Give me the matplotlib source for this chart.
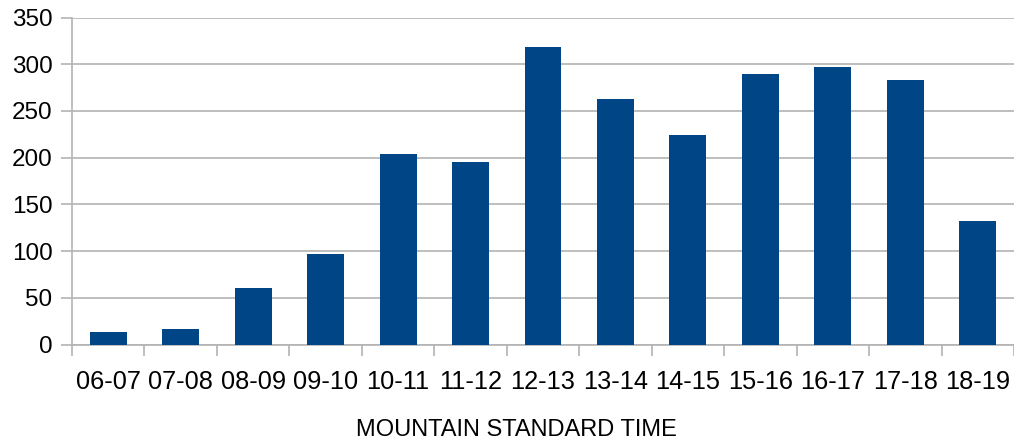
import matplotlib
matplotlib.use("Agg")
import matplotlib.pyplot as plt
import numpy as np

categories = ["06-07", "07-08", "08-09", "09-10", "10-11", "11-12", "12-13",
              "13-14", "14-15", "15-16", "16-17", "17-18", "18-19"]
values = [13, 17, 61, 97, 204, 195, 319, 263, 224, 290, 297, 283, 132]
y_ticks = [0, 50, 100, 150, 200, 250, 300, 350]
x_title = "MOUNTAIN STANDARD TIME"

plt.rcParams['font.family'] = ['Liberation Sans', 'DejaVu Sans']

fig = plt.figure(figsize=(10.14, 4.43), dpi=100)
ax = fig.add_axes([0.071, 0.2223, 0.929, 0.738])

x = np.arange(len(categories))
ax.bar(x, values, width=0.51, color="#004586", zorder=3)

ax.set_xlim(-0.5, len(categories) - 0.5)
ax.set_ylim(0, 350)
ax.set_yticks(y_ticks)
ax.set_yticklabels([str(v) for v in y_ticks], fontsize=17.5)
ax.yaxis.grid(True, color="#b3b3b3", linewidth=1.2, zorder=0)
ax.tick_params(axis='y', length=8, color="#b3b3b3", width=1.2, pad=6)

ax.set_xticks(x)
ax.set_xticklabels(categories, fontsize=18.3)
ax.tick_params(axis='x', which='major', length=0, pad=18)
ax.set_xticks(np.arange(-0.5, len(categories), 1), minor=True)
ax.tick_params(axis='x', which='minor', length=8, color="#b3b3b3", width=1.2)

for s in ["top", "right"]:
    ax.spines[s].set_visible(False)
for s in ["left", "bottom"]:
    ax.spines[s].set_color("#b3b3b3")
    ax.spines[s].set_linewidth(1.2)

fig.text(516 / 1014, (443 - 430.5) / 443, x_title, ha="center", va="center", fontsize=17)

fig.savefig("out.png", dpi=100)
